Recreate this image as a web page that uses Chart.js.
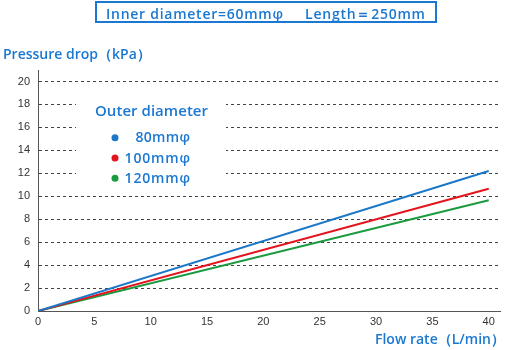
<!DOCTYPE html>
<html>
<head>
<meta charset="utf-8">
<script src="https://cdn.jsdelivr.net/npm/chart.js@4"></script>
<style>
  html, body { margin: 0; padding: 0; background: #fff; }
  #wrap { width: 510px; height: 350px; position: relative; }
</style>
</head>
<body>
<div id="wrap"><canvas id="drop"></canvas></div>
<script>
// flow rate (L/min) and pressure drop (kPa) per outer diameter
const flowRate = [0, 40];
const seriesNames = ["80mm\u03c6", "100mm\u03c6", "120mm\u03c6"];
const drop80 = [0, 12.2];
const drop100 = [0, 10.65];
const drop120 = [0, 9.65];
const yTicks = [0, 2, 4, 6, 8, 10, 12, 14, 16, 18, 20];
const xTicks = [0, 5, 10, 15, 20, 25, 30, 35, 40];

const BLUE_TEXT = "#1a78d2";
const FONT = "'Liberation Sans', Arial, sans-serif";
const LABEL_FONT = "'Open Sans', 'Liberation Sans', sans-serif";
const lineColors = ["#1b78c8", "#e3141e", "#1b9a40"];

function pts(ys) {
  return flowRate.map((x, i) => ({ x: x, y: ys[i] }));
}

// spread a string so its glyphs span the given width
function spreadText(ctx, text, x, y, width) {
  ctx.letterSpacing = "0px";
  const w = ctx.measureText(text).width;
  const n = [...text].length;
  ctx.letterSpacing = Math.max(0, (width - w) / (n - 1)).toFixed(2) + "px";
  ctx.fillText(text, x, y);
  ctx.letterSpacing = "0px";
}

// header box, axis titles and the legend block
const decorations = {
  id: "decorations",
  afterDraw(chart) {
    const ctx = chart.ctx;
    ctx.save();
    ctx.strokeStyle = BLUE_TEXT;
    ctx.lineWidth = 2;
    ctx.strokeRect(96, 2, 340, 20);
    ctx.fillStyle = BLUE_TEXT;
    ctx.textBaseline = "alphabetic";
    ctx.textAlign = "left";
    ctx.font = "600 14px " + LABEL_FONT;
    spreadText(ctx, "Inner diameter=60mm\u03c6", 106, 18.5, 177);
    spreadText(ctx, "Length\uff1d250mm", 305, 18.5, 120);

    spreadText(ctx, "Pressure drop\uff08kPa\uff09", 3, 58.5, 144);
    spreadText(ctx, "Flow rate\uff08L/min\uff09", 375, 344, 130);

    // legend sits on a white patch over the grid
    ctx.fillStyle = "#fff";
    ctx.fillRect(76, 92, 150, 96);
    ctx.fillStyle = BLUE_TEXT;
    ctx.font = "600 15px " + LABEL_FONT;
    spreadText(ctx, "Outer diameter", 95, 116, 113);
    ctx.font = "600 14px " + LABEL_FONT;
    chart.data.datasets.forEach((ds, i) => {
      const y = 137.7 + i * 20.3;
      ctx.fillStyle = ds.borderColor;
      ctx.beginPath();
      ctx.arc(115, y, 3.5, 0, Math.PI * 2);
      ctx.fill();
      ctx.fillStyle = BLUE_TEXT;
      const label = ds.label;
      const wTarget = [...label].length * 10.9;
      spreadText(ctx, label, 190 - wTarget, y + 4.5, wTarget);
    });
    ctx.restore();
  }
};

new Chart(document.getElementById("drop"), {
  type: "line",
  data: {
    datasets: [drop80, drop100, drop120].map((d, i) => ({
      label: seriesNames[i],
      data: pts(d),
      borderColor: lineColors[i],
      borderWidth: 2,
      pointRadius: 0,
      tension: 0
    }))
  },
  options: {
    responsive: true,
    maintainAspectRatio: false,
    animation: false,
    layout: { padding: { top: 70, right: 10, left: 0, bottom: 0 } },
    plugins: { legend: { display: false }, tooltip: { enabled: false } },
    scales: {
      x: {
        type: "linear",
        min: 0,
        max: 41,
        afterBuildTicks: s => { s.ticks = xTicks.map(v => ({ value: v })); },
        afterFit: s => { s.height = 39; },
        grid: { display: false, drawTicks: false },
        border: { display: true, color: "#555", width: 1 },
        ticks: { color: "#333", font: { size: 11, family: FONT }, padding: 4 }
      },
      y: {
        min: 0,
        max: 21,
        afterBuildTicks: s => { s.ticks = yTicks.map(v => ({ value: v })); },
        afterFit: s => { s.width = 38; },
        grid: { color: "#444", lineWidth: 1, drawTicks: false },
        border: { display: true, color: "#555", width: 1, dash: [3, 3] },
        ticks: { color: "#333", font: { size: 11, family: FONT }, padding: 8 }
      }
    }
  },
  plugins: [decorations]
});
</script>
</body>
</html>
